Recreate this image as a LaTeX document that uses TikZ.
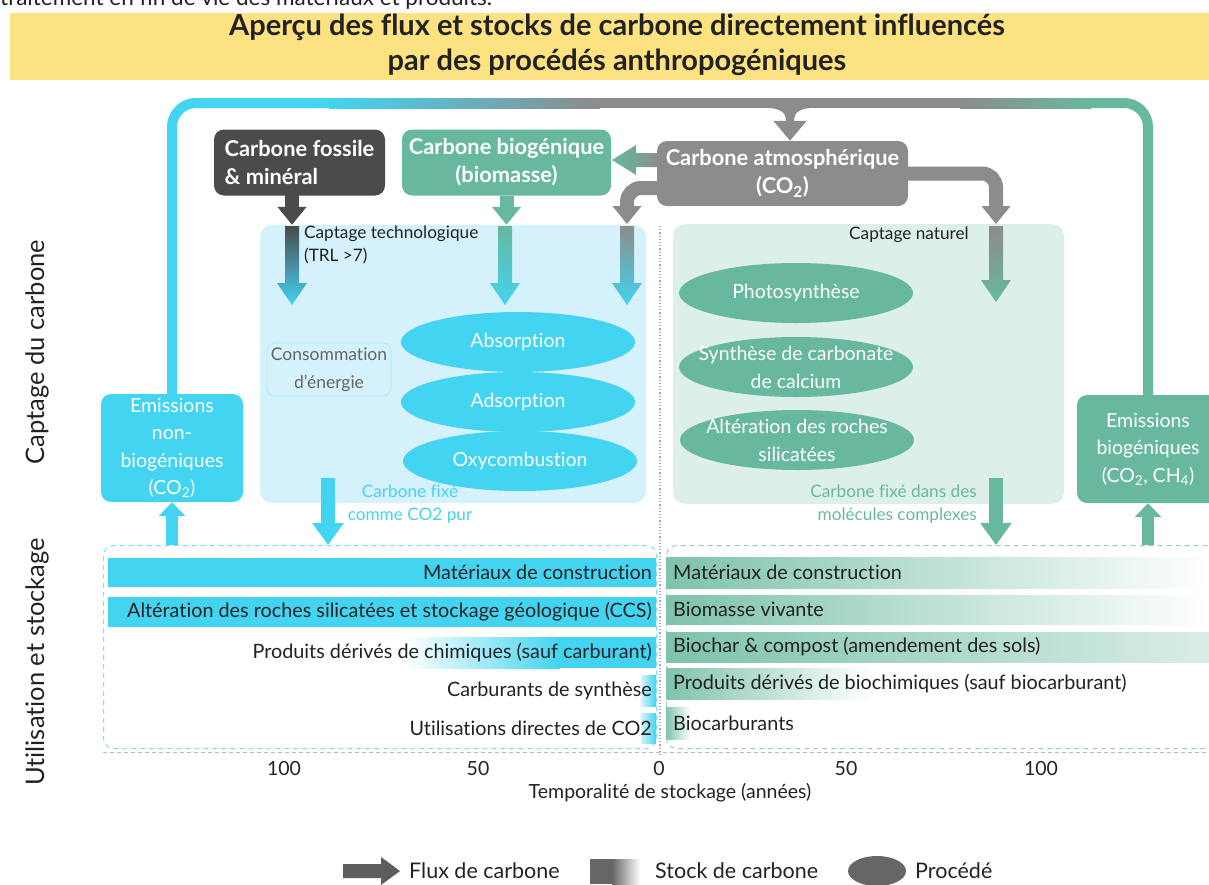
\documentclass[tikz,border=0pt]{standalone}
\usepackage{fontspec}
\setmainfont{Lato}[RawFeature=-liga]
\usetikzlibrary{arrows.meta,shapes.geometric,calc}

\definecolor{capcyan}{HTML}{42D4F1}
\definecolor{capgreen}{HTML}{67B89E}
\definecolor{atmgray}{HTML}{8C8C8C}
\definecolor{fossdark}{HTML}{4B4B4D}
\definecolor{techpanel}{HTML}{D5F1FB}
\definecolor{natpanel}{HTML}{DDEFEA}
\definecolor{banner}{HTML}{FDE281}
\definecolor{ink}{HTML}{222222}
\definecolor{legendgray}{HTML}{666666}

\newcommand{\fs}[2]{\fontsize{#1}{#2}\selectfont}
% shaded block arrow pointing down: x, y of tail, y of tip, top colour, bottom colour
\newcommand{\shadedown}[5]{%
  \shade[top color=#4, bottom color=#5]
    (#1-7,#2) -- (#1+7,#2) -- (#1+7,#3-22) -- (#1+15,#3-22) -- (#1,#3)
    -- (#1-15,#3-22) -- (#1-7,#3-22) -- cycle;}

\pgfdeclarelayer{back}
\pgfdeclarelayer{flow}
\pgfsetlayers{back,flow,main}

\begin{document}
\begin{tikzpicture}[x=1pt,y=-1pt,
  box/.style={rounded corners=10, text=white, inner sep=0, align=center},
  headbox/.style={box, font=\fs{21.8}{28}\bfseries, minimum height=66},
  embox/.style={box, font=\fs{19.5}{27.5}, minimum width=142, minimum height=108},
  procc/.style={ellipse, fill=capcyan, minimum width=234, minimum height=60, inner sep=0},
  procg/.style={ellipse, fill=capgreen, minimum width=234, minimum height=60, inner sep=0},
  ptext/.style={text=white, font=\fs{19.5}{28}, align=center, inner sep=0},
  bartext/.style={text=ink, font=\fs{19.8}{22}, inner sep=0},
  note/.style={font=\fs{17.2}{23}, inner sep=0},
  axlab/.style={text=ink, font=\fs{19.5}{22}, inner sep=0},
  legtext/.style={text=ink, font=\fs{21.5}{24}, inner sep=0, anchor=west},
  fatflow/.style={line width=14, -{Triangle[width=30pt,length=22pt]}},
  upflow/.style={line width=12, -{Triangle[width=26pt,length=14pt]}},
  store/.style={dash pattern=on 5pt off 4pt, line width=1, rounded corners=10,
                inner sep=0, anchor=north west, minimum height=203},
]
\useasboundingbox (0,0) rectangle (1209,884);

% line carried over from the previous page
\node[anchor=base west, font=\fs{22.5}{26}, text=ink, inner sep=0] (prevline) at (0,5)
  {traitement en fin de vie des matériaux et produits.};

% title banner
\node[fill=banner, minimum width=1199, minimum height=67, anchor=north west, inner sep=0]
  (banner) at (10,13) {};
\node[font=\fs{29}{35}\bfseries, text=ink, align=center, inner sep=0] (title) at (617,45)
  {Aperçu des flux et stocks de carbone directement influencés\\par des procédés anthropogéniques};

% side labels
\node[rotate=90, font=\fs{25.5}{28}, text=ink, inner sep=0] (labcap) at (37,352) {Captage du carbone};
\node[rotate=90, font=\fs{25.5}{28}, text=ink, inner sep=0] (labuse) at (37,662) {Utilisation et stockage};

% capture panels
\begin{pgfonlayer}{back}
  \node[fill=techpanel, rounded corners=12, minimum width=386, minimum height=278, inner sep=0]
    (tech) at (453,364) {};
  \node[fill=natpanel, rounded corners=12, minimum width=391, minimum height=280, inner sep=0]
    (nat) at (868.5,364) {};
\end{pgfonlayer}
\draw[gray!70, dotted, line width=1.2] (660,226) -- (660,756);

% carbon sources
\node[headbox, fill=fossdark, minimum width=171, align=left] (fossil) at (299.5,162.5)
  {Carbone fossile\\\& minéral};
\node[headbox, fill=capgreen, minimum width=209] (bio) at (506.5,162.5)
  {Carbone biogénique\\(biomasse)};
\node[headbox, fill=atmgray, minimum width=251, minimum height=65] (atm) at (782.5,173.5)
  {Carbone atmosphérique\\(CO\textsubscript{2})};

% emission boxes
\node[embox, fill=capcyan] (emnb) at (172,448)
  {Emissions\\non-\\biogéniques\\(CO\textsubscript{2})};
\node[embox, fill=capgreen] (emb) at (1148,449)
  {Emissions\\biogéniques\\(CO\textsubscript{2}, CH\textsubscript{4})};

% storage frames
\node[store, draw=capcyan!70, minimum width=553] (lstore) at (103,545) {};
\node[store, draw=capgreen!70, minimum width=560] (rstore) at (666,545) {};
\draw[gray!55, dash pattern=on 4pt off 3pt, line width=1] (103,752) -- (1209,752);

\coordinate (loopL) at (172,103);
\coordinate (loopR) at (1148,103);
\coordinate (brace) at (790,118);
\coordinate (fossdrop) at (292,195);
\coordinate (atmL) at (700,188);
\coordinate (atmLdown) at (627,224);
\coordinate (atmRdown) at (996,224);
\coordinate (fixL) at (328,478);
\coordinate (fixR) at (996,478);

\begin{pgfonlayer}{flow}
  % emissions returning to the atmosphere
  \draw[capcyan, line width=10, rounded corners=24] (emnb.north) -- (loopL) -- (330,103);
  \draw[capgreen, line width=10, rounded corners=24] (emb.north) -- (loopR) -- (1090,103);
  \shade[left color=capcyan, right color=atmgray] (329,98) rectangle (600,108);
  \fill[atmgray] (599,98) rectangle (961,108);
  \shade[left color=atmgray, right color=capgreen] (960,98) rectangle (1091,108);
  \draw[atmgray, line width=8] (748,103) .. controls (780,103) and (790,106) .. (790,122);
  \draw[atmgray, line width=8] (832,103) .. controls (800,103) and (790,106) .. (790,122);
  \draw[atmgray, line width=8, -{Triangle[width=32pt,length=20pt]}] (brace) -- (brace |- atm.north);

  % atmosphere to biomass
  \shade[left color=capgreen, right color=atmgray]
    (664,153) -- (636,153) -- (636,145) -- (612,160) -- (636,175) -- (636,167) -- (664,167) -- cycle;

  % sources into the capture panels
  \draw[fossdark, line width=14, -{Triangle[width=28pt,length=18pt]}] (fossdrop) -- (fossdrop |- tech.north);
  \draw[capgreen, line width=14, -{Triangle[width=28pt,length=18pt]}] (bio.south) -- (bio.south |- tech.north);
  \draw[atmgray, line width=14, rounded corners=14, -{Triangle[width=28pt,length=18pt]}] (atmL) -| (atmLdown);
  \draw[atmgray, line width=14, rounded corners=14, -{Triangle[width=28pt,length=18pt]}] (atm.east) -| (atmRdown);

  % flows inside the panels
  \shadedown{292}{226}{305}{fossdark}{capcyan}
  \shadedown{505}{226}{305}{capgreen}{capcyan}
  \shadedown{627}{226}{305}{atmgray}{capcyan}
  \shadedown{996}{226}{302}{atmgray}{capgreen}

  % fixed carbon to storage
  \draw[capcyan, fatflow] (fixL) -- (fixL |- lstore.north);
  \draw[capgreen, fatflow] (fixR) -- (fixR |- rstore.north);

  % storage back to emissions
  \draw[capcyan, upflow] (emnb.south |- lstore.north) -- (emnb.south);
  \draw[capgreen, upflow] (emb.south |- rstore.north) -- (emb.south);
\end{pgfonlayer}

% technological capture
\node[note, text=ink, anchor=north west, align=left] (techlab) at (304,226)
  {Captage technologique\\(TRL >7)};
\node[draw=capcyan!45, line width=0.8, rounded corners=8, minimum width=124, minimum height=53,
      inner sep=0, text=legendgray, font=\fs{17.5}{28}, align=center] (energy) at (329,369.5)
  {Consommation\\d'énergie};
\node[procc] (absorp) at (518,342) {};
\node[ptext] at (absorp) {Absorption};
\node[procc] (adsorp) at (518,402) {};
\node[ptext] at (adsorp) {Adsorption};
\node[procc] (oxy) at (520,461) {};
\node[ptext] at (oxy) {Oxycombustion};
\node[note, text=capcyan, align=center] (fixLtext) at (410,504)
  {Carbone fixé\\comme CO2 pur};

% natural capture
\node[note, text=ink, anchor=north west] (natlab) at (849,227) {Captage naturel};
\node[procg] (photo) at (796,293) {};
\node[ptext] at (photo) {Photosynthèse};
\node[procg] (carbo) at (796,367) {};
\node[ptext] at (carbo) {Synthèse de carbonate\\de calcium};
\node[procg] (alter) at (797,440) {};
\node[ptext] at (alter) {Altération des roches\\silicatées};
\node[note, text=capgreen, align=right, anchor=east] (fixRtext) at (977,504)
  {Carbone fixé dans des\\molécules complexes};

% technological storage bars
\fill[capcyan] (108,558) rectangle (656,587);
\node[bartext, anchor=east] (lb1) at (652,572.5) {Matériaux de construction};
\fill[capcyan] (108,597) rectangle (656,627);
\node[bartext, anchor=east] (lb2) at (652,612) {Altération des roches silicatées et stockage géologique (CCS)};
\shade[left color=white, right color=capcyan] (405,637) rectangle (560,668);
\fill[capcyan] (559.5,637) rectangle (656,668);
\node[bartext, anchor=east] (lb3) at (652,652.5) {Produits dérivés de chimiques (sauf carburant)};
\shade[left color=capcyan!25, right color=capcyan] (641,675) rectangle (656,706);
\node[bartext, anchor=east] (lb4) at (652,690.5) {Carburants de synthèse};
\shade[left color=capcyan!25, right color=capcyan] (641,713) rectangle (656,743);
\node[bartext, anchor=east] (lb5) at (652,728) {Utilisations directes de CO2};

% natural storage bars
\shade[left color=capgreen!85, right color=white] (666,557) rectangle (1209,588);
\node[bartext, anchor=west] (rb1) at (673,572.5) {Matériaux de construction};
\shade[left color=capgreen!85, middle color=capgreen!25, right color=white] (666,595) rectangle (1209,624);
\node[bartext, anchor=west] (rb2) at (673,609.5) {Biomasse vivante};
\shade[left color=capgreen!85, right color=capgreen!25] (666,632) rectangle (1209,662);
\node[bartext, anchor=west] (rb3) at (673,647) {Biochar \& compost (amendement des sols)};
\shade[left color=capgreen!85, right color=white] (666,668) rectangle (870,699);
\node[bartext, anchor=west] (rb4) at (673,683.5) {Produits dérivés de biochimiques (sauf biocarburant)};
\shade[left color=capgreen!85, right color=white] (666,707) rectangle (690,739);
\node[bartext, anchor=west] (rb5) at (673,723) {Biocarburants};

% time axis
\node[axlab] (t100l) at (284,768) {100};
\node[axlab] (t50l) at (478,768) {50};
\node[axlab] (t0) at (659,768) {0};
\node[axlab] (t50r) at (846,768) {50};
\node[axlab] (t100r) at (1041,768) {100};
\node[text=ink, font=\fs{19.5}{22}, inner sep=0] (axtitle) at (670,793) {Temporalité de stockage (années)};

% legend
\fill[fossdark!90] (343,864) -- (381,864) -- (381,857) -- (400,871) -- (381,885) -- (381,878) -- (343,878) -- cycle;
\node[legtext] (legflux) at (409,871) {Flux de carbone};
\fill[legendgray] (590,859) rectangle (613,884);
\shade[left color=legendgray, right color=white] (612,859) rectangle (640,884);
\node[legtext] (legstock) at (655,871) {Stock de carbone};
\node[ellipse, fill=legendgray, minimum width=58, minimum height=30, inner sep=0] (legproc) at (877,871) {};
\node[legtext] (legproctext) at (915,871) {Procédé};
\end{tikzpicture}
\end{document}
